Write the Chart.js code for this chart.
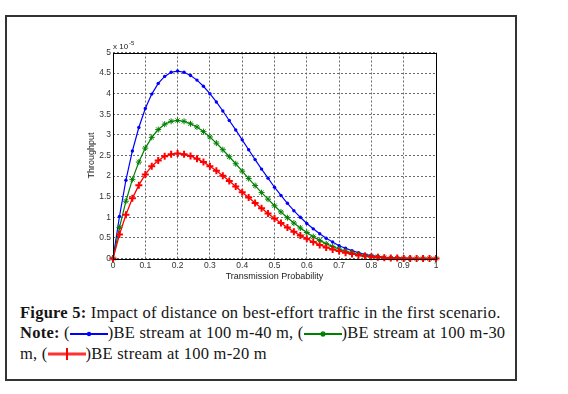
<!DOCTYPE html>
<html>
<head>
<meta charset="utf-8">
<script src="https://cdn.jsdelivr.net/npm/chart.js@4.4.0/dist/chart.umd.min.js"></script>
<style>
html, body { margin:0; padding:0; background:#fff; }
body { width:568px; height:394px; position:relative; overflow:hidden; }
#frame { position:absolute; left:5px; top:15px; width:512px; height:366px; border:2px solid #333; box-sizing:border-box; }
#wrap { position:absolute; left:0; top:0; width:568px; height:300px; }
#caption { position:absolute; left:20px; top:303px; font-family:'Liberation Serif', serif; font-size:16.5px; letter-spacing:0.24px; line-height:20.3px; color:#151515; white-space:nowrap; }
.ico { display:inline-block; vertical-align:-1px; }
</style>
</head>
<body>
<div id="frame"></div>
<div id="wrap"><canvas id="c" width="568" height="300"></canvas></div>
<div id="caption"><b>Figure 5:</b> Impact of distance on best-effort traffic in the first scenario.<br><b>Note:</b> (<svg class="ico" width="38" height="10"><line x1="0" y1="5" x2="38" y2="5" stroke="#0000ff" stroke-width="2"/><circle cx="19" cy="5" r="2.2" fill="#0000ff"/></svg>)BE stream at 100 m-40 m, (<svg class="ico" width="38" height="10"><line x1="0" y1="5" x2="38" y2="5" stroke="#008000" stroke-width="2"/><path d="M16 5H22M19 2V8M17 3L21 7M21 3L17 7" stroke="#008000" stroke-width="1.2"/></svg>)BE stream at 100 m-30<br>m, (<svg class="ico" width="38" height="12"><line x1="0" y1="6" x2="38" y2="6" stroke="#ff0000" stroke-width="3" opacity="0.8"/><line x1="19" y1="0" x2="19" y2="12" stroke="#ff0000" stroke-width="2"/></svg>)BE stream at 100 m-20 m</div>
<script>
// transmission probability samples
const probability = [0, 0.02, 0.04, 0.06, 0.08, 0.1, 0.12, 0.14, 0.16, 0.18, 0.2, 0.22, 0.24, 0.26, 0.28, 0.3, 0.32, 0.34, 0.36, 0.38, 0.4, 0.42, 0.44, 0.46, 0.48, 0.5, 0.52, 0.54, 0.56, 0.58, 0.6, 0.62, 0.64, 0.66, 0.68, 0.7, 0.72, 0.74, 0.76, 0.78, 0.8, 0.82, 0.84, 0.86, 0.88, 0.9, 0.92, 0.94, 0.96, 0.98, 1]

// throughput, in units of 1e-5
const be40 = [0, 1.02, 1.9, 2.61, 3.18, 3.64, 3.99, 4.25, 4.42, 4.52, 4.55, 4.52, 4.44, 4.33, 4.18, 4.0, 3.8, 3.58, 3.35, 3.12, 2.88, 2.64, 2.4, 2.17, 1.95, 1.73, 1.53, 1.34, 1.16, 1.0, 0.85, 0.72, 0.6, 0.49, 0.4, 0.31, 0.25, 0.19, 0.14, 0.1, 0.07, 0.05, 0.03, 0.02, 0.01, 0.01, 0, 0, 0, 0, 0]
const be30 = [0, 0.75, 1.39, 1.92, 2.34, 2.68, 2.94, 3.13, 3.26, 3.33, 3.35, 3.33, 3.27, 3.19, 3.08, 2.95, 2.8, 2.64, 2.47, 2.3, 2.12, 1.94, 1.77, 1.6, 1.44, 1.28, 1.13, 0.99, 0.86, 0.74, 0.63, 0.53, 0.44, 0.36, 0.29, 0.23, 0.18, 0.14, 0.1, 0.07, 0.05, 0.04, 0.02, 0.01, 0.01, 0, 0, 0, 0, 0, 0]
const be20 = [0, 0.58, 1.06, 1.46, 1.78, 2.04, 2.24, 2.38, 2.48, 2.53, 2.55, 2.53, 2.49, 2.42, 2.34, 2.24, 2.13, 2.01, 1.88, 1.75, 1.61, 1.48, 1.35, 1.22, 1.09, 0.97, 0.86, 0.75, 0.65, 0.56, 0.48, 0.4, 0.33, 0.27, 0.22, 0.18, 0.14, 0.11, 0.08, 0.06, 0.04, 0.03, 0.02, 0.01, 0.01, 0, 0, 0, 0, 0, 0]

const seriesLabels = ['BE stream at 100 m-40 m', 'BE stream at 100 m-30 m', 'BE stream at 100 m-20 m']
const xTickLabels = ['0', '0.1', '0.2', '0.3', '0.4', '0.5', '0.6', '0.7', '0.8', '0.9', '1']
const yTickLabels = ['0', '0.5', '1', '1.5', '2', '2.5', '3', '3.5', '4', '4.5', '5']

const toPoints = ys => probability.map((p, i) => ({ x: p, y: ys[i] }))
const tickFont = { family: 'Liberation Sans', size: 8.5 }
const titleFont = { family: 'Liberation Sans', size: 9 }

// box round the plot + the "x 10^-5" multiplier
const boxPlugin = {
    id: 'box',
    afterDraw(chart) {
        const { ctx, chartArea: a } = chart
        ctx.save()
        ctx.strokeStyle = '#000'
        ctx.lineWidth = 1
        ctx.strokeRect(Math.round(a.left) + 0.5, Math.round(a.top) + 0.5, Math.round(a.right - a.left), Math.round(a.bottom - a.top))
        ctx.fillStyle = '#222'
        ctx.textBaseline = 'alphabetic'
        ctx.font = '8px "Liberation Sans"'
        ctx.fillText('x 10', a.left, a.top - 4)
        ctx.font = '6px "Liberation Sans"'
        ctx.fillText('-5', a.left + 16, a.top - 8)
        ctx.restore()
    }
}

new Chart(document.getElementById('c'), {
    type: 'line',
    data: {
        datasets: [
            { label: seriesLabels[0], data: toPoints(be40), borderColor: '#0000ff', backgroundColor: '#0000ff', borderWidth: 1.2, pointStyle: 'circle', pointRadius: 1.7, pointBorderWidth: 0, order: 2 },
            { label: seriesLabels[1], data: toPoints(be30), borderColor: '#008000', backgroundColor: '#008000', borderWidth: 1.2, pointStyle: 'star', pointRadius: 3, pointBorderWidth: 1, order: 1 },
            { label: seriesLabels[2], data: toPoints(be20), borderColor: '#ff0000', backgroundColor: '#ff0000', borderWidth: 1.3, pointStyle: 'cross', pointRadius: 3.5, pointBorderWidth: 2, order: 0 }
        ]
    },
    options: {
        responsive: false,
        animation: false,
        devicePixelRatio: 1,
        clip: 8,
        layout: { padding: { left: 80, top: 52.5, right: 132, bottom: 16.5 } },
        plugins: { legend: { display: false }, tooltip: { enabled: false } },
        elements: { line: { tension: 0 } },
        scales: {
            x: {
                type: 'linear', min: 0, max: 1,
                ticks: { stepSize: 0.1, padding: 2, color: '#333', font: tickFont, maxRotation: 0, autoSkip: false, callback: (v, i) => xTickLabels[i] },
                grid: { color: '#6a6a6a', drawTicks: false },
                border: { display: false, dash: [2, 2] },
                title: { display: true, text: 'Transmission Probability', color: '#222', font: titleFont, padding: { top: 0, bottom: 1.5 } },
                afterFit: s => { s.height = 25 }
            },
            y: {
                type: 'linear', min: 0, max: 5,
                ticks: { stepSize: 0.5, padding: 2, color: '#333', font: tickFont, callback: (v, i) => yTickLabels[i] },
                grid: { color: '#6a6a6a', drawTicks: false },
                border: { display: false, dash: [2, 2] },
                title: { display: true, text: 'Throughput', color: '#222', font: titleFont, padding: { top: 6, bottom: 0 } },
                afterFit: s => { s.width = 33 }
            }
        }
    },
    plugins: [boxPlugin]
})
</script>
</body>
</html>
